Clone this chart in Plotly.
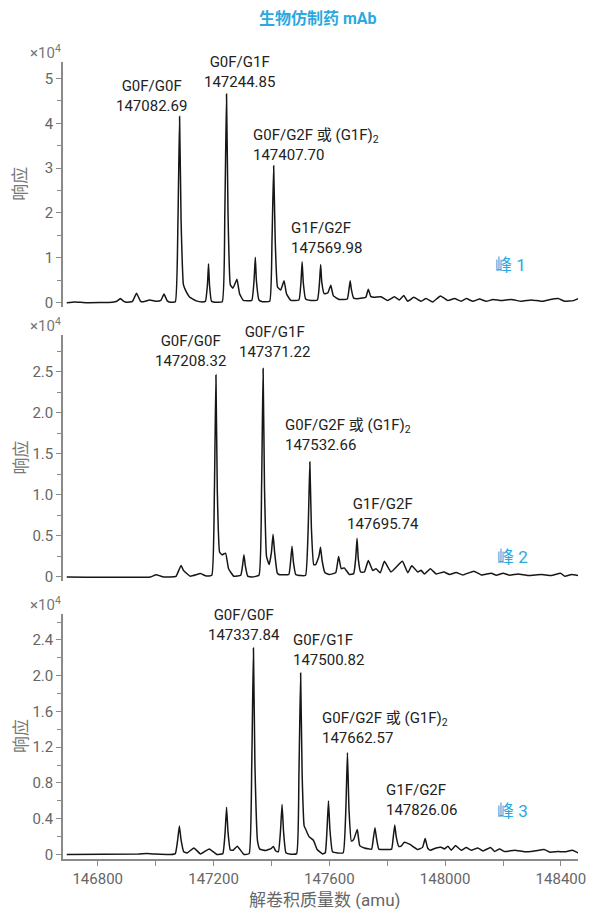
import plotly.graph_objects as go

# ---------------- data (response in units of 10^4) ----------------
mass_p1 = [146693, 146720, 146760, 146850, 146866, 146878, 146890, 146900, 146920, 146934, 146948,
           146958, 146979, 147004, 147018, 147029, 147040, 147051, 147068, 147077, 147082.69, 147088,
           147096, 147103, 147118, 147140, 147161, 147172, 147179, 147182.7, 147186, 147193, 147203.5,
           147230, 147239, 147244.85, 147250, 147258, 147267, 147280.8, 147290, 147302.8, 147332, 147340,
           147344.3, 147348, 147357, 147368.6, 147394, 147402, 147407.7, 147413, 147421, 147432, 147443.6,
           147452, 147466.7, 147495, 147502, 147506, 147510, 147518, 147536, 147559, 147566, 147569.98,
           147574, 147582, 147595, 147605, 147614, 147634, 147662, 147668, 147672, 147676, 147684, 147703,
           147726, 147734.6, 147743, 147755, 147778.5, 147801.6, 147824.7, 147842, 147857, 147871,
           147891.7, 147917, 147934, 147957, 147984, 148009.5, 148032.5, 148055.6, 148073, 148096,
           148119, 148142, 148165, 148194, 148229, 148263.5, 148298, 148333, 148356, 148390.5, 148413.6,
           148442.5, 148460]
resp_p1 = [0.0, 0.015, 0.0, 0.01, 0.03, 0.09, 0.03, 0.01, 0.03, 0.21, 0.03,
           0.02, 0.06, 0.03, 0.05, 0.19, 0.04, 0.01, 0.02, 1.8, 4.15, 1.8,
           0.4, 0.28, 0.12, 0.04, 0.015, 0.03, 0.4, 0.87, 0.4, 0.03, 0.01,
           0.02, 2.0, 4.65, 2.0, 0.4, 0.32, 0.52, 0.2, 0.05, 0.05, 0.5,
           1.01, 0.5, 0.06, 0.02, 0.03, 1.4, 3.05, 1.4, 0.35, 0.28, 0.49,
           0.2, 0.05, 0.06, 0.45, 0.91, 0.45, 0.08, 0.05, 0.06, 0.45, 0.85,
           0.45, 0.2, 0.22, 0.39, 0.15, 0.07, 0.08, 0.3, 0.49, 0.3, 0.1, 0.09,
           0.12, 0.30, 0.14, 0.12, 0.13, 0.045, 0.13, 0.06, 0.16, 0.03,
           0.12, 0.03, 0.09, 0.015, 0.15, 0.045, 0.09, 0.03, 0.09, 0.03,
           0.08, 0.03, 0.07, 0.045, 0.07, 0.03, 0.06, 0.03, 0.06, 0.09, 0.03,
           0.045, 0.09]

mass_p2 = [146693, 146982, 147001, 147028, 147070, 147080, 147088, 147096, 147120, 147155, 147175,
           147194, 147203, 147208.32, 147213, 147221, 147230, 147241.6, 147252, 147270, 147294, 147300,
           147305, 147310, 147318, 147334, 147357, 147366, 147371.22, 147376, 147383, 147392, 147400,
           147405.6, 147411, 147420, 147426, 147460, 147466, 147471, 147476, 147484, 147501, 147518,
           147527, 147532.66, 147538, 147546, 147553, 147564, 147569.5, 147575, 147585, 147599.5, 147622,
           147632, 147641, 147651.5, 147669, 147684, 147691, 147695.74, 147700, 147708, 147721, 147734.6,
           147750, 147761, 147776, 147790, 147813, 147852.4, 147871, 147884.7, 147905.5, 147917,
           147928.5, 147949, 147969, 147995.6, 148015, 148038, 148061, 148099.5, 148125, 148159.6,
           148177, 148200, 148223, 148252, 148286.5, 148332.8, 148367.4, 148398.5, 148413.6, 148436.7,
           148460]
resp_p2 = [0.0, 0.0, 0.025, 0.0, 0.005, 0.08, 0.14, 0.08, 0.008, 0.04, 0.01,
           0.02, 1.05, 2.46, 1.05, 0.3, 0.27, 0.29, 0.1, 0.008, 0.02, 0.13,
           0.27, 0.13, 0.01, 0.0, 0.02, 1.1, 2.54, 1.1, 0.25, 0.15, 0.3,
           0.52, 0.3, 0.05, 0.03, 0.03, 0.18, 0.375, 0.18, 0.03, 0.016, 0.02,
           0.6, 1.40, 0.6, 0.15, 0.15, 0.25, 0.36, 0.2, 0.05, 0.03, 0.05,
           0.25, 0.1, 0.11, 0.03, 0.04, 0.22, 0.47, 0.22, 0.06, 0.06, 0.2,
           0.078, 0.10, 0.05, 0.19, 0.06, 0.19, 0.05, 0.135, 0.06, 0.08,
           0.036, 0.10, 0.036, 0.06, 0.03, 0.053, 0.024, 0.07, 0.024, 0.045,
           0.02, 0.045, 0.02, 0.036, 0.016, 0.028, 0.016, 0.045, 0.008, 0.028,
           0.016]

mass_p3 = [146693, 146940, 146970, 147000, 147051, 147068, 147076, 147082, 147088, 147097, 147109,
           147132, 147155, 147185, 147212.7, 147232, 147240, 147245, 147250, 147258, 147268, 147282,
           147305, 147323, 147332, 147337.84, 147343, 147352, 147360, 147380, 147400, 147406.7, 147415,
           147424, 147431, 147436.7, 147442, 147450, 147466.7, 147487, 147495, 147500.82, 147506, 147513,
           147518.7, 147530, 147545, 147558, 147576.4, 147586, 147592, 147597, 147602, 147611, 147628,
           147648, 147657, 147662.57, 147668, 147676, 147684, 147696.5, 147705, 147721, 147746, 147752,
           147757.7, 147763, 147771, 147790, 147815, 147821, 147826.06, 147831, 147840, 147848, 147859,
           147880, 147905.5, 147922, 147931, 147940, 147949, 147969, 147986, 147998, 148009.5, 148021,
           148036, 148055.6, 148073, 148090, 148113, 148130.7, 148157, 148171, 148188, 148205.8, 148240,
           148275, 148304, 148342, 148361.6, 148390.5, 148413.6, 148440, 148460]
resp_p3 = [0.0, 0.005, 0.011, 0.005, 0.0, 0.01, 0.16, 0.32, 0.16, 0.03, 0.018,
           0.074, 0.007, 0.063, 0.0, 0.01, 0.25, 0.53, 0.25, 0.05, 0.048, 0.093,
           0.0, 0.01, 1.0, 2.31, 1.0, 0.15, 0.06, 0.045, 0.07, 0.09, 0.04,
           0.03, 0.25, 0.56, 0.25, 0.02, 0.004, 0.01, 0.9, 2.03, 0.9, 0.32,
           0.28, 0.2, 0.16, 0.056, 0.007, 0.02, 0.28, 0.60, 0.28, 0.03, 0.018,
           0.02, 0.5, 1.14, 0.5, 0.15, 0.167, 0.28, 0.1, 0.074, 0.06, 0.18,
           0.30, 0.18, 0.06, 0.056, 0.06, 0.2, 0.33, 0.2, 0.09, 0.093, 0.137,
           0.11, 0.056, 0.08, 0.178, 0.07, 0.048, 0.074, 0.081, 0.063, 0.093, 0.048,
           0.1, 0.048, 0.078, 0.048, 0.074, 0.04, 0.078, 0.033, 0.063, 0.033, 0.048,
           0.03, 0.037, 0.056, 0.026, 0.033, 0.03, 0.048, 0.018]

# peak labels: (text, mass, response, alignment)
labels_p1 = [("G0F/G0F<br>147082.69", 146984, 4.60, "center"),
             ("G0F/G1F<br>147244.85", 147288, 5.14, "center"),
             ("G0F/G2F 或 (G1F)<sub>2</sub><br>147407.70", 147328, 3.52, "left"),
             ("G1F/G2F<br>147569.98", 147459, 1.44, "left")]
labels_p2 = [("G0F/G0F<br>147208.32", 147120, 2.75, "center"),
             ("G0F/G1F<br>147371.22", 147409, 2.86, "center"),
             ("G0F/G2F 或 (G1F)<sub>2</sub><br>147532.66", 147441, 1.735, "left"),
             ("G1F/G2F<br>147695.74", 147785, 0.763, "center")]
labels_p3 = [("G0F/G0F<br>147337.84", 147305, 2.567, "center"),
             ("G0F/G1F<br>147500.82", 147467, 2.283, "left"),
             ("G0F/G2F 或 (G1F)<sub>2</sub><br>147662.57", 147568, 1.417, "left"),
             ("G1F/G2F<br>147826.06", 147788, 0.607, "left")]

peak_names = ["峰 1", "峰 2", "峰 3"]
peak_name_pos = [(148225, 0.85), (148233, 0.24), (148233, 0.49)]

y1_tickvals = [0, 1, 2, 3, 4, 5]
y1_ticktext = ["0", "1", "2", "3", "4", "5"]
y2_tickvals = [0, 0.5, 1.0, 1.5, 2.0, 2.5]
y2_ticktext = ["0", "0.5", "1.0", "1.5", "2.0", "2.5"]
y3_tickvals = [0, 0.4, 0.8, 1.2, 1.6, 2.0, 2.4]
y3_ticktext = ["0", "0.4", "0.8", "1.2", "1.6", "2.0", "2.4"]
x_tickvals = [146800, 147200, 147600, 148000, 148400]
x_ticktext = ["146800", "147200", "147600", "148000", "148400"]

title_text = "生物仿制药 mAb"
y_title = "响应"
x_title = "解卷积质量数 (amu)"
scale_text = "×10<sup>4</sup>"

# ---------------- figure ----------------
AX = "#8a8a8a"
TXT = "#666666"
FONT = "Roboto, 'Noto Sans CJK SC', sans-serif"
BLUE = "#2aa9e0"

fig = go.Figure()
for i, (mx, ry) in enumerate([(mass_p1, resp_p1), (mass_p2, resp_p2), (mass_p3, resp_p3)]):
    sfx = "" if i == 0 else str(i + 1)
    fig.add_trace(go.Scatter(x=mx, y=ry, mode="lines", xaxis="x" + sfx, yaxis="y" + sfx,
                             line=dict(color="#161616", width=1.5, shape="spline", smoothing=0.35),
                             hoverinfo="skip", showlegend=False))

xrange = [146680, 148459]
domains = [[0.693, 1.0], [0.3488, 0.6575], [0.0, 0.3074]]
yranges = [[-0.09, 5.366], [-0.05, 2.948], [-0.05, 2.69]]
ytv = [(y1_tickvals, y1_ticktext, 0.5), (y2_tickvals, y2_ticktext, 0.25), (y3_tickvals, y3_ticktext, 0.2)]

# page body has an 8px margin, so the figure is drawn 8px smaller and offset
layout = dict(
    width=590, height=901,
    margin=dict(l=55, r=14, t=54, b=50),
    paper_bgcolor="white", plot_bgcolor="white",
    font=dict(family=FONT, size=15, color=TXT),
    showlegend=False,
)
annotations = []
for i in range(3):
    sfx = "" if i == 0 else str(i + 1)
    last = (i == 2)
    xa = dict(domain=[0, 1], range=xrange, anchor="y" + sfx, showgrid=False, zeroline=False,
              showline=last, linecolor=AX, linewidth=1.5,
              ticks="outside" if last else "", ticklen=5, tickwidth=1.2, tickcolor=AX,
              showticklabels=last, tickvals=x_tickvals, ticktext=x_ticktext,
              tickfont=dict(family=FONT, size=15, color=TXT))
    if last:
        xa["minor"] = dict(dtick=200, tick0=146800, ticks="outside", ticklen=5, tickwidth=1.2, tickcolor=AX)
    tv, tt, mdt = ytv[i]
    ya = dict(domain=domains[i], range=yranges[i], anchor="x" + sfx, showgrid=False, zeroline=False,
              showline=True, linecolor=AX, linewidth=1.5,
              ticks="outside", ticklen=5, tickwidth=1.2, tickcolor=AX,
              tickvals=tv, ticktext=tt, tickfont=dict(family=FONT, size=15, color=TXT),
              minor=dict(dtick=mdt, tick0=0, ticks="outside", ticklen=4, tickwidth=1.2, tickcolor=AX))
    layout["xaxis" + sfx] = xa
    layout["yaxis" + sfx] = ya

    dom = domains[i]
    annotations.append(dict(text=y_title, xref="paper", yref="paper", x=-0.0825, y=(dom[0] + dom[1]) / 2,
                            textangle=-90, showarrow=False, xanchor="center", yanchor="middle",
                            font=dict(family=FONT, size=17, color="#777777")))
    annotations.append(dict(text=scale_text, xref="paper", yref="paper", x=-0.0345,
                            y=dom[1] + 0.0125, showarrow=False, xanchor="center", yanchor="middle",
                            font=dict(family=FONT, size=15, color="#777777")))
    for (t, mx, ry, al) in [labels_p1, labels_p2, labels_p3][i]:
        annotations.append(dict(text=t, xref="x" + sfx, yref="y" + sfx, x=mx, y=ry, showarrow=False,
                                xanchor="left" if al == "left" else "center", align=al,
                                yanchor="middle", font=dict(family=FONT, size=15, color="#222222")))
    px, py = peak_name_pos[i]
    annotations.append(dict(text=peak_names[i], xref="x" + sfx, yref="y" + sfx, x=px, y=py,
                            showarrow=False, xanchor="center", yanchor="middle",
                            font=dict(family=FONT, size=17, color=BLUE)))

annotations.append(dict(text="<b>" + title_text + "</b>", xref="paper", yref="paper", x=0.495, y=1.0552,
                        showarrow=False, xanchor="center", yanchor="middle",
                        font=dict(family=FONT, size=16, color=BLUE)))
annotations.append(dict(text=x_title, xref="paper", yref="paper", x=0.507, y=-0.0514,
                        showarrow=False, xanchor="center", yanchor="middle",
                        font=dict(family=FONT, size=17, color="#666666")))
layout["annotations"] = annotations
fig.update_layout(**layout)

fig.write_html("out.html")
